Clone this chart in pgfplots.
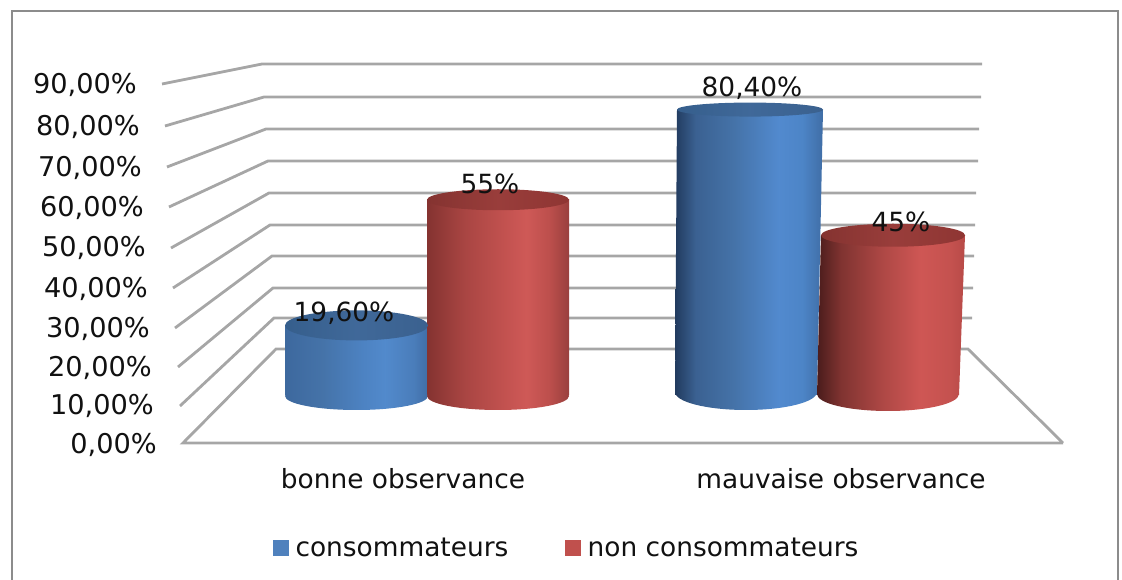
\documentclass[border=0pt]{standalone}
\usepackage{fontspec}
\setmainfont{DejaVu Sans}
\usepackage{pgfplots}
\pgfplotsset{compat=1.18}
\definecolor{gridc}{HTML}{A6A6A6}
\definecolor{framec}{HTML}{8C8C8C}
\definecolor{barblue}{HTML}{4F81BD}
\definecolor{barred}{HTML}{C0504D}
\definecolor{txt}{HTML}{111111}
\pgfdeclarehorizontalshading{sideBlueA}{100bp}{rgb(0bp)=(0.24,0.41,0.62);rgb(25bp)=(0.24,0.41,0.62);rgb(38bp)=(0.27,0.45,0.66);rgb(52bp)=(0.30,0.51,0.76);rgb(60bp)=(0.32,0.54,0.80);rgb(70bp)=(0.29,0.49,0.73);rgb(75bp)=(0.25,0.43,0.65);rgb(100bp)=(0.25,0.43,0.65)}
\pgfdeclarehorizontalshading{sideBlueB}{100bp}{rgb(0bp)=(0.13,0.23,0.37);rgb(25bp)=(0.13,0.23,0.37);rgb(32bp)=(0.23,0.38,0.57);rgb(45bp)=(0.27,0.45,0.66);rgb(60bp)=(0.32,0.54,0.81);rgb(68bp)=(0.30,0.52,0.78);rgb(75bp)=(0.25,0.43,0.65);rgb(100bp)=(0.25,0.43,0.65)}
\pgfdeclarehorizontalshading{sideRedA}{100bp}{rgb(0bp)=(0.52,0.20,0.19);rgb(25bp)=(0.52,0.20,0.19);rgb(38bp)=(0.66,0.27,0.26);rgb(52bp)=(0.76,0.32,0.31);rgb(60bp)=(0.81,0.35,0.34);rgb(68bp)=(0.74,0.31,0.30);rgb(75bp)=(0.60,0.25,0.24);rgb(100bp)=(0.60,0.25,0.24)}
\pgfdeclarehorizontalshading{sideRedB}{100bp}{rgb(0bp)=(0.29,0.11,0.11);rgb(25bp)=(0.29,0.11,0.11);rgb(33bp)=(0.50,0.20,0.19);rgb(47bp)=(0.68,0.28,0.27);rgb(60bp)=(0.81,0.34,0.33);rgb(70bp)=(0.77,0.32,0.31);rgb(75bp)=(0.72,0.29,0.28);rgb(100bp)=(0.72,0.29,0.28)}
\pgfdeclarehorizontalshading{topBlue}{100bp}{rgb(0bp)=(0.21,0.37,0.55);rgb(25bp)=(0.21,0.37,0.55);rgb(50bp)=(0.25,0.41,0.60);rgb(75bp)=(0.23,0.38,0.56);rgb(100bp)=(0.23,0.38,0.56)}
\pgfdeclarehorizontalshading{topRed}{100bp}{rgb(0bp)=(0.52,0.20,0.19);rgb(25bp)=(0.52,0.20,0.19);rgb(50bp)=(0.60,0.24,0.23);rgb(75bp)=(0.56,0.21,0.20);rgb(100bp)=(0.56,0.21,0.20)}
% top face: plain shaded ellipse
\newcommand\cyltop[4]{\pgfdeclareplotmark{#1}{\pgfpathellipse{\pgfpointorigin}{\pgfpoint{0.75*#2 pt}{0pt}}{\pgfpoint{0pt}{0.75*#3 pt}}\pgfshadepath{#4}{0}\pgfusepath{discard}}}
% base: ellipse (rx, ry, centre raised by #7 px), showing the body's shading over body extent #5..#6 relative to the centre
\newcommand\cylbase[7]{\pgfdeclareplotmark{#1}{\pgfscope
  \pgfpathellipse{\pgfpoint{0pt}{0.75*#7 pt}}{\pgfpoint{0.75*#2 pt}{0pt}}{\pgfpoint{0pt}{0.75*#3 pt}}\pgfusepath{clip}
  \pgfpathrectangle{\pgfpoint{0.75*#5 pt}{-30pt}}{\pgfpoint{0.75*#6 pt-0.75*#5 pt}{60pt}}\pgfshadepath{#4}{0}\pgfusepath{discard}
  \endpgfscope}}
\cylbase{baseA}{71.5}{14}{sideBlueA}{-71.5}{71.5}{-1}
\cyltop{topA}{71.5}{15}{topBlue}
\cylbase{baseB}{71}{14}{sideRedA}{-71}{71}{-1}
\cyltop{topB}{71}{10.5}{topRed}
\cylbase{baseC}{71}{18}{sideBlueB}{-71}{77}{3}
\cyltop{topC}{73}{7}{topBlue}
\cylbase{baseD}{71}{17}{sideRedB}{-71}{77}{1}
\cyltop{topD}{72}{11.5}{topRed}
\pgfplotsset{hb/.style={scale only axis,width=841.5pt,height=435pt,hide axis,clip=false,xmin=0,xmax=1122}}
\newcommand\vl[3]{\node[anchor=east,font=\fontsize{20.4pt}{22pt}\selectfont,text=txt,inner sep=0pt] at (axis cs:#1,#2) {#3};}
\begin{document}
\begin{tikzpicture}
\path[use as bounding box] (0,0) rectangle (841.5pt,435pt);
% walls, floor and frame: pixel-scaled axis
\begin{axis}[hb,ymin=0,ymax=580,y dir=reverse]
\addplot[framec,line width=1.5pt,forget plot] coordinates {(12,580) (12,11) (1118,11) (1118,580)};
\addplot[gridc,line width=2.1pt,forget plot] coordinates {(162,84) (262,64) (982,64)};
\addplot[gridc,line width=2.1pt,forget plot] coordinates {(165,126) (264,97) (981,97)};
\addplot[gridc,line width=2.1pt,forget plot] coordinates {(167,167) (266,129) (979,129)};
\addplot[gridc,line width=2.1pt,forget plot] coordinates {(169,207) (268,161) (978,161)};
\addplot[gridc,line width=2.1pt,forget plot] coordinates {(171,248) (269,193) (976,193)};
\addplot[gridc,line width=2.1pt,forget plot] coordinates {(173,288) (270,225) (975,225)};
\addplot[gridc,line width=2.1pt,forget plot] coordinates {(175,328) (272,256) (974,256)};
\addplot[gridc,line width=2.1pt,forget plot] coordinates {(178,367) (273,288) (973,288)};
\addplot[gridc,line width=2.1pt,forget plot] coordinates {(180,406) (274,318) (972,318)};
\addplot[gridc,line width=2.1pt,forget plot] coordinates {(1063,443) (183,443) (276,349) (968,349) (1063,443)};
\end{axis}
% cylinders: y in per cent
\begin{axis}[hb,ymin=-52.11,ymax=111.27,
  legend columns=2,
  legend style={at={(0.2430,0.0555)},anchor=west,draw=none,fill=none,font=\fontsize{19.8pt}{22pt}\selectfont,text=txt,
    /tikz/every even column/.append style={column sep=40.5pt},inner sep=0pt},
  legend cell align=left]
\addlegendimage{only marks,mark=square*,mark size=5.6pt,color=barblue}
\addlegendentry{\hspace{3.75pt}consommateurs}
\addlegendimage{only marks,mark=square*,mark size=5.6pt,color=barred}
\addlegendentry{\hspace{3.75pt}non consommateurs}
% bonne observance - consommateurs
\addplot[only marks,mark=baseA,forget plot] coordinates {(356.5,0)};
\addplot[shading=sideBlueA,draw=none,forget plot] coordinates {(285,0) (428,0) (428,19.6) (285,19.6)} --cycle;
\addplot[only marks,mark=topA,forget plot] coordinates {(356.5,19.6)};
% bonne observance - non consommateurs
\addplot[only marks,mark=baseB,forget plot] coordinates {(498,0)};
\addplot[shading=sideRedA,draw=none,forget plot] coordinates {(427,0) (569,0) (569,55) (427,55)} --cycle;
\addplot[only marks,mark=topB,forget plot] coordinates {(498,55)};
% mauvaise observance - consommateurs
\addplot[only marks,mark=baseC,forget plot] coordinates {(746,0)};
\addplot[shading=sideBlueB,draw=none,forget plot] coordinates {(675,0) (817,0) (823,80.4) (677,80.4)} --cycle;
\addplot[only marks,mark=topC,forget plot] coordinates {(750,80.4)};
% mauvaise observance - non consommateurs
\addplot[only marks,mark=baseD,forget plot] coordinates {(888,0)};
\addplot[shading=sideRedB,draw=none,forget plot] coordinates {(817,0) (959,0) (965,45) (821,45)} --cycle;
\addplot[only marks,mark=topD,forget plot] coordinates {(893,45)};
\end{axis}
% texts
\begin{axis}[hb,ymin=0,ymax=580,y dir=reverse]
\vl{137}{85}{90,00\%}
\vl{140}{127}{80,00\%}
\vl{142}{168}{70,00\%}
\vl{144}{208}{60,00\%}
\vl{146}{248}{50,00\%}
\vl{148}{289}{40,00\%}
\vl{150}{329}{30,00\%}
\vl{152}{368}{20,00\%}
\vl{154}{406}{10,00\%}
\vl{157}{445}{0,00\%}
\tikzset{lab/.style={font=\fontsize{20.4pt}{22pt}\selectfont,text=txt,inner sep=0pt}}
\node[lab] at (axis cs:344,313) {19,60\%};
\node[lab] at (axis cs:490,184) {55\%};
\node[lab] at (axis cs:752,88) {80,40\%};
\node[lab] at (axis cs:901,222) {45\%};
\tikzset{lab/.append style={font=\fontsize{19.8pt}{22pt}\selectfont}}
\node[lab] at (axis cs:403,479) {bonne observance};
\node[lab] at (axis cs:841,479) {mauvaise observance};
\end{axis}
\end{tikzpicture}
\end{document}
